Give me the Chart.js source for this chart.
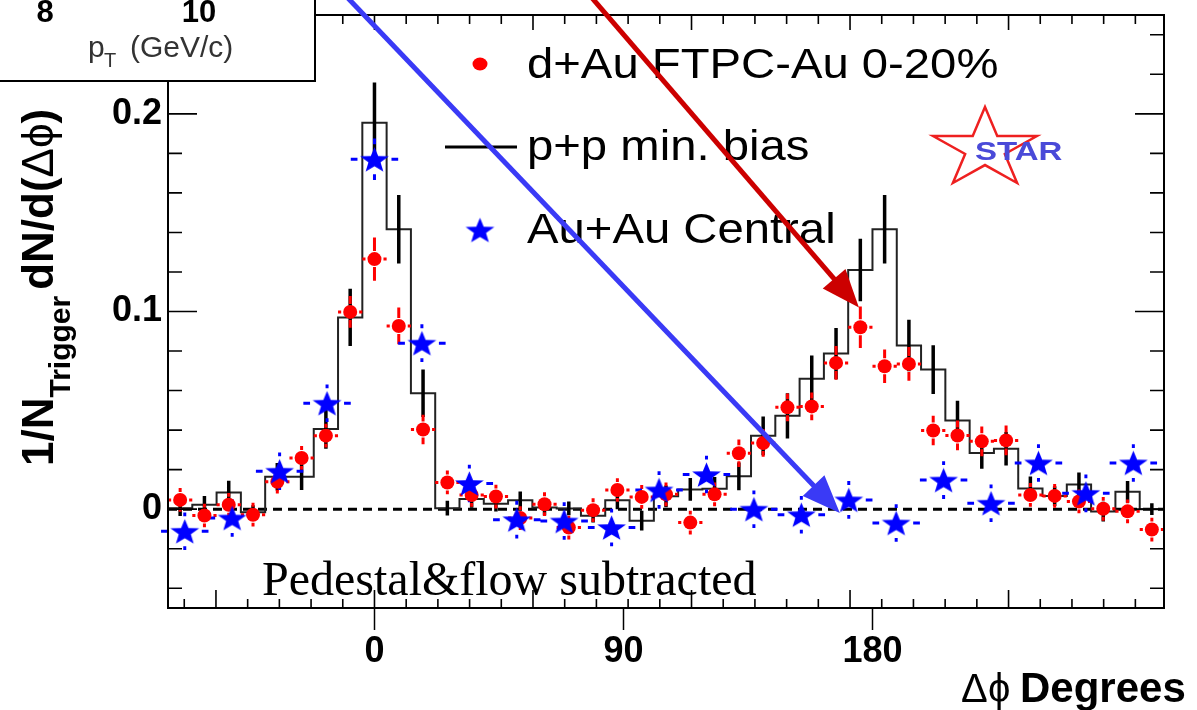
<!DOCTYPE html>
<html>
<head>
<meta charset="utf-8">
<script src="https://cdn.jsdelivr.net/npm/chart.js@4.4.1/dist/chart.umd.min.js"></script>
<style>
  html, body { margin: 0; background: #fff; }
  canvas { display: block; }
</style>
</head>
<body>
<canvas id="chart" width="1197" height="710"></canvas>
<script>
// --- Data (Δφ in degrees) ---
const xMin = -74.63, xMax = 285.37;
const binCenters = [-70.24, -61.46, -52.68, -43.90, -35.12, -26.34, -17.56, -8.78, 0, 8.78,
  17.56, 26.34, 35.12, 43.90, 52.68, 61.46, 70.24, 79.02, 87.80, 96.59,
  105.37, 114.15, 122.93, 131.71, 140.49, 149.27, 158.05, 166.83, 175.61, 184.39,
  193.17, 201.95, 210.73, 219.51, 228.29, 237.07, 245.85, 254.63, 263.41, 272.20, 280.98];
const halfBin = 4.39;

// d+Au FTPC-Au 0-20%
const dAuY = [0.0047, -0.0032, 0.0022, -0.0028, 0.0139, 0.0259, 0.0372, 0.0998, 0.1265, 0.0927,
  0.0403, 0.0135, 0.0072, 0.0064, -0.0045, 0.0025, -0.0093, -0.0005, 0.0097, 0.0062,
  0.0075, -0.0068, 0.0075, 0.0283, 0.0335, 0.0515, 0.052, 0.074, 0.092, 0.0723,
  0.0735, 0.0398, 0.0373, 0.0343, 0.0348, 0.0072, 0.0067, 0.0039, 0.0002, -0.0011, -0.0103];
const dAuErr = [0.006, 0.006, 0.006, 0.006, 0.006, 0.006, 0.006, 0.008, 0.011, 0.0093,
  0.0075, 0.006, 0.006, 0.006, 0.006, 0.006, 0.006, 0.006, 0.006, 0.006,
  0.006, 0.006, 0.006, 0.007, 0.007, 0.007, 0.007, 0.0085, 0.0105, 0.0085,
  0.0085, 0.0075, 0.0075, 0.0075, 0.0075, 0.006, 0.006, 0.006, 0.006, 0.006, 0.006];

// p+p min. bias (histogram)
const ppY = [0.0005, 0.0022, 0.0084, -0.0015, 0.0164, 0.0164, 0.0406, 0.097, 0.1955, 0.1416,
  0.0586, 0.0005, 0.0052, 0.0028, 0.0045, 0.0008, 0.0004, -0.0033, 0.0045, -0.0058,
  0.0065, 0.0100, 0.0103, 0.0166, 0.0371, 0.0472, 0.066, 0.0787, 0.121, 0.1416,
  0.0828, 0.0706, 0.0448, 0.0284, 0.0306, 0.0105, 0.0066, 0.0125, -0.0012, 0.0088, 0.0];
const ppErr = [0.004, 0.0045, 0.006, 0.0035, 0.007, 0.0067, 0.01, 0.0145, 0.0203, 0.0173,
  0.012, 0.0037, 0.0045, 0.004, 0.0045, 0.004, 0.0035, 0.0035, 0.0045, 0.005,
  0.0055, 0.0058, 0.006, 0.007, 0.0098, 0.0114, 0.0117, 0.013, 0.0158, 0.0173,
  0.013, 0.0123, 0.01, 0.008, 0.0085, 0.006, 0.005, 0.006, 0.005, 0.0055, 0.003];

// Au+Au Central
const auAuX = [-68.57, -51.43, -34.29, -17.14, 0, 17.14, 34.29, 51.43, 68.57, 85.71, 102.86,
  120, 137.14, 154.29, 171.43, 188.57, 205.71, 222.86, 240, 257.14, 274.29];
const auAuY = [-0.0112, -0.0045, 0.0192, 0.0536, 0.177, 0.084, 0.013, -0.0053, -0.006, -0.0093, 0.0097,
  0.0175, 0.0, -0.0028, 0.0047, -0.007, 0.0147, 0.003, 0.0234, 0.008, 0.0234];
const auAuErr = [0.0095, 0.0095, 0.0095, 0.0095, 0.0105, 0.0095, 0.0095, 0.0095, 0.0095, 0.0095, 0.0095,
  0.0095, 0.0095, 0.0095, 0.0095, 0.0095, 0.0095, 0.0095, 0.0095, 0.0095, 0.0095];
const auAuHalfBin = 8.57;

const xTickLabels = [0, 90, 180];
const yTickLabels = [0, 0.1, 0.2];

// annotation arrows, [x0, y0, x1, y1] in data units
const blueArrow = [-9.9, 0.259, 168.2, -0.002];
const redArrow = [78.4, 0.259, 175.1, 0.102];

const SANS = '"Liberation Sans", Arial, Helvetica, sans-serif';
const SERIF = '"Liberation Serif", "Times New Roman", serif';

// --- Markers ---
function starPath(g, R, r) {
  g.beginPath();
  for (let i = 0; i < 10; i++) {
    const a = -Math.PI / 2 + i * Math.PI / 5;
    const rr = i % 2 ? r : R;
    g.lineTo(Math.cos(a) * rr, Math.sin(a) * rr);
  }
  g.closePath();
}

function makeStar(R, sx, color) {
  const c = document.createElement('canvas');
  c.width = Math.ceil(2 * R * sx) + 4;
  c.height = Math.ceil(2 * R) + 4;
  const g = c.getContext('2d');
  g.translate(c.width / 2, c.height / 2 + 0.095 * R);
  g.scale(sx, 1);
  starPath(g, R, R * 0.42);
  g.fillStyle = color;
  g.fill();
  return c;
}

const starImg = makeStar(13.5, 1.12, '#0000ff');

// --- Helpers ---
function errBars(ctx, xs, ys, X, Y, E, halfW, gapX, gapY, color, lw) {
  ctx.save();
  ctx.strokeStyle = color;
  ctx.lineWidth = lw;
  ctx.beginPath();
  X.forEach((x, i) => {
    const px = xs.getPixelForValue(x), py = ys.getPixelForValue(Y[i]);
    const top = ys.getPixelForValue(Y[i] + E[i]), bot = ys.getPixelForValue(Y[i] - E[i]);
    if (py - top > gapY) {
      ctx.moveTo(px, top); ctx.lineTo(px, py - gapY);
      ctx.moveTo(px, py + gapY); ctx.lineTo(px, bot);
    }
    if (halfW) {
      const l = xs.getPixelForValue(x - halfW), r = xs.getPixelForValue(x + halfW);
      if (px - l > gapX) {
        ctx.moveTo(l, py); ctx.lineTo(px - gapX, py);
        ctx.moveTo(px + gapX, py); ctx.lineTo(r, py);
      }
    }
  });
  ctx.stroke();
  ctx.restore();
}

function arrow(ctx, xs, ys, a, color) {
  const x0 = xs.getPixelForValue(a[0]), y0 = ys.getPixelForValue(a[1]);
  const x1 = xs.getPixelForValue(a[2]), y1 = ys.getPixelForValue(a[3]);
  const ang = Math.atan2(y1 - y0, x1 - x0);
  const L = 38, W = 15;
  const bx = x1 - L * Math.cos(ang), by = y1 - L * Math.sin(ang);
  ctx.save();
  ctx.strokeStyle = color;
  ctx.fillStyle = color;
  ctx.lineWidth = 5;
  ctx.beginPath();
  ctx.moveTo(x0, y0);
  ctx.lineTo(bx + 2 * Math.cos(ang), by + 2 * Math.sin(ang));
  ctx.stroke();
  ctx.beginPath();
  ctx.moveTo(x1, y1);
  ctx.lineTo(bx + W * Math.sin(ang), by - W * Math.cos(ang));
  ctx.lineTo(bx - W * Math.sin(ang), by + W * Math.cos(ang));
  ctx.closePath();
  ctx.fill();
  ctx.restore();
}

function stretchText(ctx, text, x, y, sx) {
  ctx.save();
  ctx.translate(x, y);
  ctx.scale(sx, 1);
  ctx.fillText(text, 0, 0);
  ctx.restore();
}

// --- Decorations plugin ---
const decor = {
  id: 'decor',
  afterDatasetDraw(chart, args) {
    if (args.index !== 2) return;
    const { ctx } = chart;
    const xs = chart.scales.x, ys = chart.scales.y;
    errBars(ctx, xs, ys, binCenters, ppY, ppErr, 0, 0, 0, '#000', 3.5);
    errBars(ctx, xs, ys, binCenters, dAuY, dAuErr, halfBin, 9, 8, '#ff0000', 3);
    errBars(ctx, xs, ys, auAuX, auAuY, auAuErr, auAuHalfBin, 17, 15, '#0000ff', 3);
  },
  afterDraw(chart) {
    const { ctx, chartArea: ca } = chart;
    const xs = chart.scales.x, ys = chart.scales.y;
    ctx.save();

    // frame
    ctx.strokeStyle = '#000';
    ctx.lineWidth = 2;
    ctx.strokeRect(ca.left, ca.top, ca.right - ca.left, ca.bottom - ca.top);

    // x frame ticks (every 0.2 rad)
    ctx.lineWidth = 1.6;
    ctx.beginPath();
    for (let k = -6; k <= 24; k++) {
      const px = xs.getPixelForValue(k * 0.2 * 180 / Math.PI);
      const len = k % 5 === 0 ? 18 : 9;
      ctx.moveTo(px, ca.bottom); ctx.lineTo(px, ca.bottom - len);
      ctx.moveTo(px, ca.top); ctx.lineTo(px, ca.top + (k % 5 === 0 ? 15 : 9));
    }
    // y frame ticks (every 0.02)
    for (let k = -2; k <= 12; k++) {
      const py = ys.getPixelForValue(k * 0.02);
      const len = k % 5 === 0 ? 29 : 14;
      ctx.moveTo(ca.left, py); ctx.lineTo(ca.left + len, py);
      ctx.moveTo(ca.right, py); ctx.lineTo(ca.right - len, py);
    }
    ctx.stroke();

    // subtraction note
    ctx.fillStyle = '#000';
    ctx.font = '48px ' + SERIF;
    ctx.textAlign = 'left';
    ctx.textBaseline = 'alphabetic';
    ctx.fillText('Pedestal&flow subtracted', 262, 595);

    // legend
    ctx.fillStyle = '#ff0000';
    ctx.beginPath();
    ctx.ellipse(480, 64, 7.5, 6.5, 0, 0, Math.PI * 2);
    ctx.fill();
    ctx.strokeStyle = '#000';
    ctx.lineWidth = 3;
    ctx.beginPath();
    ctx.moveTo(445, 147); ctx.lineTo(517, 147);
    ctx.stroke();
    ctx.drawImage(starImg, 480 - starImg.width / 2, 230 - starImg.height / 2);
    ctx.fillStyle = '#000';
    ctx.font = '42px ' + SANS;
    stretchText(ctx, 'd+Au FTPC-Au 0-20%', 527, 78, 1.125);
    stretchText(ctx, 'p+p min. bias', 527, 160, 1.125);
    stretchText(ctx, 'Au+Au Central', 527, 243, 1.125);

    // STAR logo
    ctx.save();
    ctx.translate(985, 149);
    ctx.scale(1.3, 1);
    starPath(ctx, 42, 42 * 0.382);
    ctx.restore();
    ctx.strokeStyle = '#ee2020';
    ctx.lineWidth = 2.5;
    ctx.stroke();
    ctx.fillStyle = '#4a4ad8';
    ctx.font = 'bold 25px ' + SANS;
    stretchText(ctx, 'STAR', 975, 160, 1.32);

    // arrows
    arrow(ctx, xs, ys, blueArrow, '#3a3af6');
    arrow(ctx, xs, ys, redArrow, '#cc0000');

    // inset corner (pT panel)
    ctx.fillStyle = '#fff';
    ctx.fillRect(0, 0, 315, 81);
    ctx.strokeStyle = '#000';
    ctx.lineWidth = 2;
    ctx.beginPath();
    ctx.moveTo(315, 0); ctx.lineTo(315, 81); ctx.lineTo(0, 81);
    ctx.stroke();
    ctx.fillStyle = '#000';
    ctx.font = 'bold 31px ' + SANS;
    ctx.textAlign = 'center';
    ctx.fillText('8', 45, 22);
    ctx.fillText('10', 199, 22);
    ctx.textAlign = 'left';
    ctx.fillStyle = '#333';
    ctx.font = '30px ' + SANS;
    ctx.fillText('p', 88, 57);
    ctx.font = '20px ' + SANS;
    ctx.fillText('T', 104, 67);
    ctx.font = '30px ' + SANS;
    ctx.fillText('(GeV/c)', 130, 57);

    // x title
    ctx.fillStyle = '#000';
    ctx.font = '40px ' + SANS;
    ctx.fillText('\u0394', 961, 702);
    ctx.fillText('\u03d5', 988, 702);
    ctx.font = 'bold 42px ' + SANS;
    ctx.fillText('Degrees', 1020, 702);

    // y title (rotated)
    ctx.save();
    ctx.translate(53, 466);
    ctx.rotate(-Math.PI / 2);
    let w = 0;
    ctx.font = 'bold 44px ' + SANS;
    ctx.fillText('1/N', w, 0); w += ctx.measureText('1/N').width;
    ctx.font = 'bold 30px ' + SANS;
    ctx.fillText('Trigger', w, 17); w += ctx.measureText('Trigger').width + 6;
    ctx.font = 'bold 44px ' + SANS;
    ctx.fillText('dN/d(', w, 0); w += ctx.measureText('dN/d(').width;
    ctx.font = '44px ' + SANS;
    ctx.fillText('\u0394\u03d5', w, 0); w += ctx.measureText('\u0394\u03d5').width;
    ctx.font = 'bold 44px ' + SANS;
    ctx.fillText(')', w, 0);
    ctx.restore();

    ctx.restore();
  }
};

// --- Chart ---
const histPoints = binCenters.map((x, i) => ({ x: x - halfBin, y: ppY[i] }));
histPoints.push({ x: binCenters[binCenters.length - 1] + halfBin, y: ppY[ppY.length - 1] });

new Chart(document.getElementById('chart'), {
  type: 'scatter',
  data: {
    datasets: [
      {
        label: 'Au+Au Central',
        data: auAuX.map((x, i) => ({ x, y: auAuY[i] })),
        pointStyle: starImg,
        pointRadius: 14,
        showLine: false
      },
      {
        label: 'd+Au FTPC-Au 0-20%',
        data: binCenters.map((x, i) => ({ x, y: dAuY[i] })),
        pointStyle: 'circle',
        pointRadius: 7,
        backgroundColor: '#ff0000',
        borderWidth: 0,
        showLine: false
      },
      {
        label: 'p+p min. bias',
        type: 'line',
        data: histPoints,
        stepped: 'before',
        borderColor: '#222',
        borderWidth: 2,
        pointRadius: 0,
        fill: false
      },
      {
        label: 'zero',
        type: 'line',
        data: [{ x: xMin, y: 0 }, { x: xMax, y: 0 }],
        borderColor: '#000',
        borderWidth: 3,
        borderDash: [9, 6],
        pointRadius: 0,
        fill: false
      }
    ]
  },
  options: {
    responsive: false,
    animation: false,
    devicePixelRatio: 1,
    layout: { padding: { left: 0, right: 33, top: 8, bottom: 0 } },
    plugins: { legend: { display: false }, tooltip: { enabled: false } },
    scales: {
      x: {
        type: 'linear',
        min: xMin,
        max: xMax,
        afterBuildTicks: s => { s.ticks = xTickLabels.map(v => ({ value: v })); },
        afterFit: s => { s.height = 102; s.paddingLeft = 0; s.paddingRight = 0; },
        ticks: {
          color: '#000',
          font: { family: SANS, size: 36, weight: 'bold' },
          padding: 0,
          maxRotation: 0,
          callback: v => String(v)
        },
        grid: { display: true, drawOnChartArea: false, tickLength: 22, tickColor: '#000', tickWidth: 1.5 },
        border: { display: false }
      },
      y: {
        type: 'linear',
        min: -0.05,
        max: 0.25,
        afterBuildTicks: s => { s.ticks = yTickLabels.map(v => ({ value: v })); },
        afterFit: s => { s.width = 168; s.paddingTop = 0; s.paddingBottom = 0; },
        ticks: {
          color: '#000',
          font: { family: SANS, size: 36, weight: 'bold' },
          padding: 6,
          callback: v => (v === 0 ? '0' : v.toFixed(1))
        },
        grid: { display: false, drawTicks: false },
        border: { display: false }
      }
    }
  },
  plugins: [decor]
});
</script>
</body>
</html>
